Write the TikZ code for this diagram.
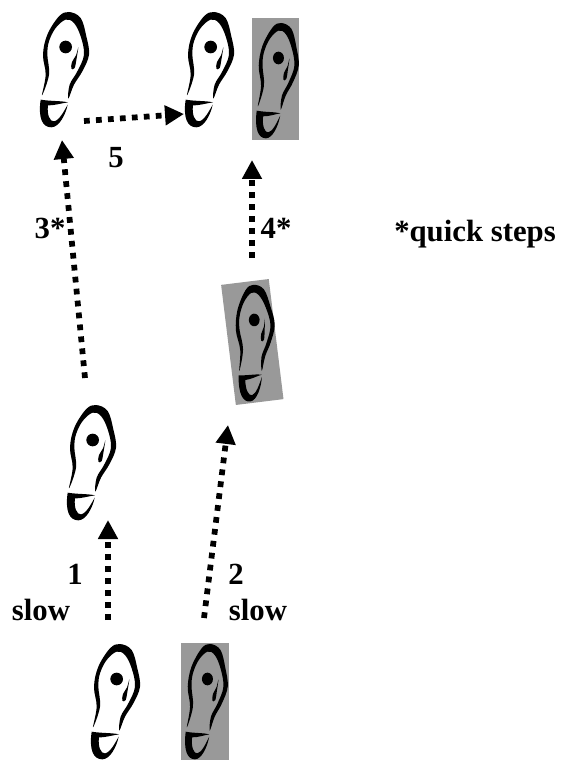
\documentclass[tikz,border=0pt]{standalone}
\usepackage{fontspec}
\setmainfont{Liberation Serif}
\usetikzlibrary{arrows.meta}
\usetikzlibrary{positioning}
\definecolor{shoegrey}{gray}{0.6}
\tikzset{
 footbox/.style={inner sep=0pt,outer sep=0pt,minimum width=1cm,minimum height=2.34cm},
 shade/.style={fill=shoegrey,inner sep=0pt,outer sep=0pt},
 steparrow/.style={line width=0.115cm,dash pattern=on 0.115cm off 0.125cm,
   -{Triangle[length=0.38cm,width=0.38cm]}},
 lbl/.style={font=\bfseries\fontsize{17.5}{17.5}\selectfont,anchor=base,inner sep=0pt},
 foot/.pic={
  \begin{scope}[x=0.00667cm,y=0.00667cm]
   % toe and sides
   \fill[black] plot[smooth cycle,tension=0.6] coordinates {(-66,-82) (-55,-20) (-63,40) (-50,100) (-15,155) (15,168)
     (50,150) (67,95) (75,40) (55,-10) (30,-50) (13,-92) (17,-50) (40,-10) (60,40) (50,95)
     (30,135) (5,145) (-25,120) (-45,80) (-50,40) (-45,-20)};
   % heel
   \fill[black] (-70,-95) .. controls (-40,-100) and (-10,-98) .. (12,-103)
     .. controls (-10,-106) and (-25,-112) .. (-48,-112)
     .. controls (-52,-140) and (-42,-162) .. (-30,-160)
     .. controls (-15,-158) and (0,-130) .. (11,-110)
     .. controls (5,-140) and (-15,-178) .. (-38,-178)
     .. controls (-65,-178) and (-78,-150) .. (-70,-95) -- cycle;
   \fill[black] (5,63) circle (19);
   % small drop
   \fill[black] plot[smooth cycle,tension=0.6] coordinates {(43,62) (38,30) (32,0) (22,-2) (24,18) (36,38)};
  \end{scope}
 }
}

\begin{document}
\begin{tikzpicture}[x=0.02cm,y=-0.02cm]
\useasboundingbox (0,0) rectangle (567,760);

\node[shade,minimum width=0.94cm,minimum height=2.44cm] (shadeD) at (275.5,79) {};
\node[shade,minimum width=0.96cm,minimum height=2.42cm,rotate=7] (shadeC) at (252.3,342) {};
\node[shade,minimum width=0.96cm,minimum height=2.34cm] (shadeB) at (205,701.5) {};

\node[footbox] (footA) at (115,700) {};
\node[footbox] (footB) at (91,461) {};
\node[footbox] (footC) at (64,68) {};
\node[footbox] (footD) at (209,68) {};
\pic at (footA) {foot};
\pic at (footB) {foot};
\pic at (footC) {foot};
\pic at (footD) {foot};
\pic[xscale=0.87] at (206,700) {foot};
\pic[xscale=0.87] at (277,79) {foot};
\pic[xscale=0.85,rotate=7] at (255,341) {foot};

\coordinate (oneS) at (108,620);
\coordinate (oneE) at (108,520);
\coordinate (twoS) at (204,618);
\coordinate (twoE) at (228,425);
\coordinate (threeS) at (85,378);
\coordinate (threeE) at (62,140);
\coordinate (fourS) at (252,258);
\coordinate (fourE) at (252,160);
\coordinate (fiveS) at (84,121);

\draw[steparrow] (oneS) -- (oneE);
\draw[steparrow] (twoS) -- (twoE);
\draw[steparrow] (threeS) -- (threeE);
\draw[steparrow] (fourS) -- (fourE);
\draw[steparrow] (fiveS) -- (footD.west |- 0,114);

\node[lbl] (numOne) at (75,584) {1};
\node[lbl] (slowOne) at (41,620) {slow};
\node[lbl] (numTwo) at (236,584) {2};
\node[lbl] (slowTwo) at (258,620) {slow};
\node[lbl] (numThree) at (50,238) {3*};
\node[lbl] (numFour) at (276,238) {4*};
\node[lbl] (numFive) at (116,168) {5};
\node[lbl] (quick) at (475,241) {*quick steps};
\end{tikzpicture}
\end{document}
